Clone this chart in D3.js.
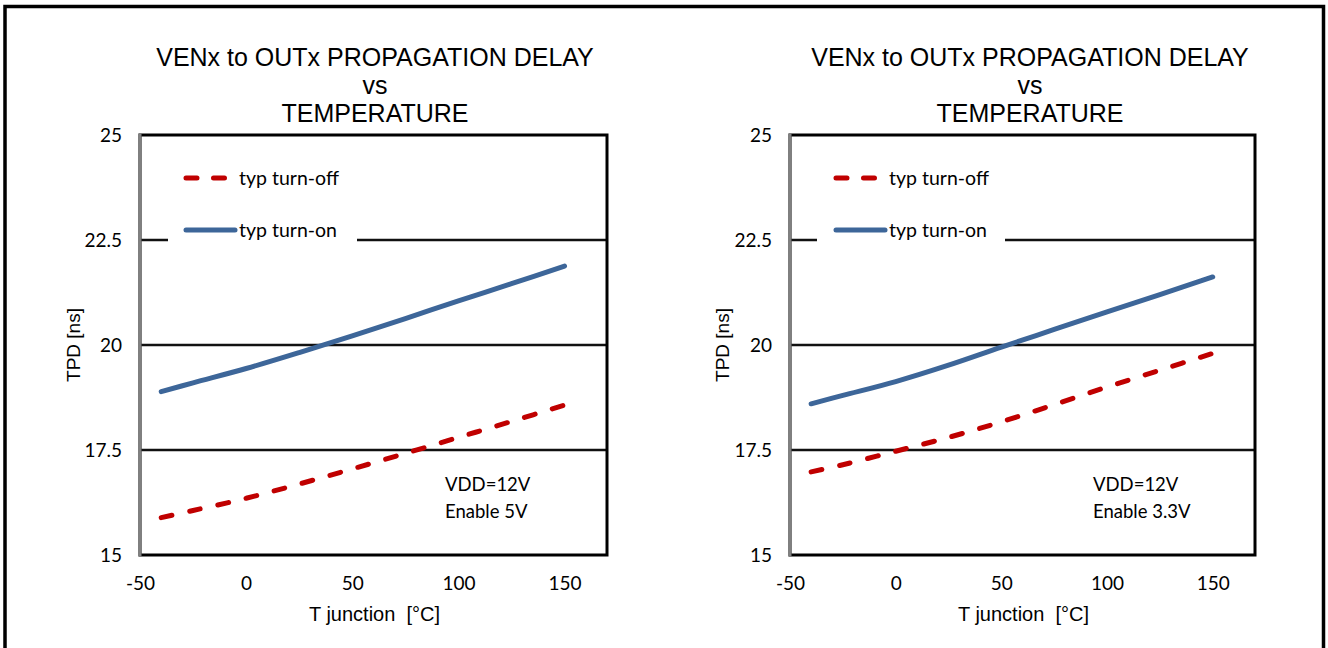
<!DOCTYPE html>
<html>
<head>
<meta charset="utf-8">
<script src="https://cdn.jsdelivr.net/npm/d3@7"></script>
<style>
  html, body { margin: 0; padding: 0; background: #fff; }
  svg { display: block; }
  .title { font-family: "Liberation Sans", Arial, sans-serif; font-size: 25px; fill: #000; }
  .axis-title { font-family: "Liberation Sans", Arial, sans-serif; font-size: 20px; fill: #000; white-space: pre; }
  .y-title { font-size: 19px; }
  .tick-label { font-family: Lato, "Open Sans", sans-serif; font-size: 19px; fill: #000; }
  .legend-text { font-family: Lato, "Open Sans", sans-serif; font-size: 19.5px; fill: #000; }
  .note { font-family: Lato, "Open Sans", sans-serif; font-size: 18.5px; fill: #000; }
</style>
</head>
<body>
<svg id="chart" width="1328" height="648"></svg>
<script>
// Junction temperature sample points (°C)
const temps = [-40, -25, 0, 25, 50, 75, 100, 125, 150];

// Propagation delay (ns), VDD = 12 V, Enable 5 V
const turnOff5V = [15.89, 16.06, 16.35, 16.69, 17.05, 17.42, 17.80, 18.18, 18.57];
const turnOn5V  = [18.89, 19.10, 19.44, 19.82, 20.22, 20.63, 21.05, 21.46, 21.88];

// Propagation delay (ns), VDD = 12 V, Enable 3.3 V
const turnOff33V = [16.98, 17.15, 17.47, 17.80, 18.17, 18.58, 19.00, 19.40, 19.80];
const turnOn33V  = [18.60, 18.80, 19.13, 19.52, 19.95, 20.37, 20.79, 21.20, 21.62];

// Axes
const xTicks = [-50, 0, 50, 100, 150];
const yTicks = [15, 17.5, 20, 22.5, 25];
const xDomain = [-50, 170];
const yDomain = [15, 25];

// Text
const titleLines = ["VENx to OUTx PROPAGATION DELAY", "vs", "TEMPERATURE"];
const xAxisTitle = "T junction  [°C]";
const yAxisTitle = "TPD [ns]";
const seriesNames = ["typ turn-off", "typ turn-on"];
const notes5V = ["VDD=12V", "Enable 5V"];
const notes33V = ["VDD=12V", "Enable 3.3V"];

const colors = { off: "#C00000", on: "#3D6699" };

const panels = [
  { left: 140, right: 607, titleX: 375, yTitleX: 73, off: turnOff5V, on: turnOn5V, notes: notes5V, noteX: 445, legendGap: [168, 357] },
  { left: 790, right: 1255, titleX: 1030, yTitleX: 722, off: turnOff33V, on: turnOn33V, notes: notes33V, noteX: 1093, legendGap: [817, 1005] }
];
const plotTop = 135, plotBottom = 555;

const svg = d3.select("#chart");

// Outer frame
svg.append("rect")
  .attr("x", 5).attr("y", 6.5)
  .attr("width", 1318.5).attr("height", 660)
  .attr("fill", "none").attr("stroke", "#000").attr("stroke-width", 3.5);

panels.forEach(p => {
  const x = d3.scaleLinear().domain(xDomain).range([p.left, p.right]);
  const y = d3.scaleLinear().domain(yDomain).range([plotBottom, plotTop]);
  const g = svg.append("g");

  // Title
  g.append("text").attr("class", "title")
    .attr("text-anchor", "middle")
    .selectAll("tspan").data(titleLines).join("tspan")
    .attr("x", p.titleX)
    .attr("y", (d, i) => 66 + i * 27.8)
    .text(d => d);

  // Gridlines (the top one is broken behind the legend box)
  const gridVals = yTicks.filter(v => v > yDomain[0] && v < yDomain[1]);
  g.selectAll("line.grid").data(gridVals).join("line")
    .attr("class", "grid")
    .attr("x1", x(xDomain[0])).attr("x2", x(xDomain[1]))
    .attr("y1", d => y(d)).attr("y2", d => y(d))
    .attr("stroke", "#111").attr("stroke-width", 2.5);

  // Legend background
  g.append("rect")
    .attr("x", p.legendGap[0]).attr("y", 152)
    .attr("width", p.legendGap[1] - p.legendGap[0]).attr("height", 97)
    .attr("fill", "#fff");

  // Plot frame
  g.append("rect")
    .attr("x", p.left).attr("y", plotTop)
    .attr("width", p.right - p.left).attr("height", plotBottom - plotTop)
    .attr("fill", "none").attr("stroke", "#000").attr("stroke-width", 3);
  g.append("line")
    .attr("x1", p.left).attr("x2", p.left)
    .attr("y1", plotTop - 1.5).attr("y2", plotBottom + 1.5)
    .attr("stroke", "#808080").attr("stroke-width", 3);

  // Y tick labels
  const yAxis = d3.axisLeft(y).tickValues(yTicks).tickSize(0).tickPadding(18)
    .tickFormat(d => String(d));
  const ya = g.append("g").attr("transform", `translate(${p.left},0)`).call(yAxis);
  ya.select(".domain").remove();
  ya.selectAll("text").attr("class", "tick-label").attr("font-size", null).attr("font-family", null)
    .attr("dy", "0.36em");

  // X tick labels
  const xAxis = d3.axisBottom(x).tickValues(xTicks).tickSize(0).tickPadding(28)
    .tickFormat(d => String(d));
  const xa = g.append("g").attr("transform", `translate(0,${plotBottom})`).call(xAxis);
  xa.select(".domain").remove();
  xa.selectAll("text").attr("class", "tick-label").attr("font-size", null).attr("font-family", null)
    .attr("dy", "0.36em");

  // Axis titles
  g.append("text").attr("class", "axis-title")
    .attr("x", (x(xDomain[0]) + x(xDomain[1])) / 2 + 1).attr("y", 621)
    .attr("text-anchor", "middle").text(xAxisTitle);
  g.append("text").attr("class", "axis-title y-title")
    .attr("transform", `translate(${p.yTitleX + 7},${(plotTop + plotBottom) / 2}) rotate(-90)`)
    .attr("text-anchor", "middle").text(yAxisTitle);

  // Series
  const line = d3.line().x((d, i) => x(temps[i])).y(d => y(d)).curve(d3.curveCatmullRom.alpha(0.5));
  g.append("path").datum(p.on)
    .attr("d", line).attr("fill", "none")
    .attr("stroke", colors.on).attr("stroke-width", 5).attr("stroke-linecap", "round");
  g.append("path").datum(p.off)
    .attr("d", line).attr("fill", "none")
    .attr("stroke", colors.off).attr("stroke-width", 5)
    .attr("stroke-linecap", "round").attr("stroke-dasharray", "11,18");

  // Legend
  const lx = p.left + 46;
  g.append("line").attr("x1", lx).attr("x2", lx + 44).attr("y1", 178).attr("y2", 178)
    .attr("stroke", colors.off).attr("stroke-width", 5)
    .attr("stroke-linecap", "round").attr("stroke-dasharray", "11,16.5");
  g.append("line").attr("x1", lx).attr("x2", lx + 49).attr("y1", 230).attr("y2", 230)
    .attr("stroke", colors.on).attr("stroke-width", 5).attr("stroke-linecap", "round");
  g.selectAll("text.legend-text").data(seriesNames).join("text")
    .attr("class", "legend-text")
    .attr("x", lx + 53).attr("y", (d, i) => 178 + i * 52).attr("dy", "0.36em")
    .text(d => d);

  // Condition notes
  g.selectAll("text.note").data(p.notes).join("text")
    .attr("class", "note")
    .attr("x", p.noteX).attr("y", (d, i) => 491 + i * 26.5)
    .text(d => d);
});
</script>
</body>
</html>
